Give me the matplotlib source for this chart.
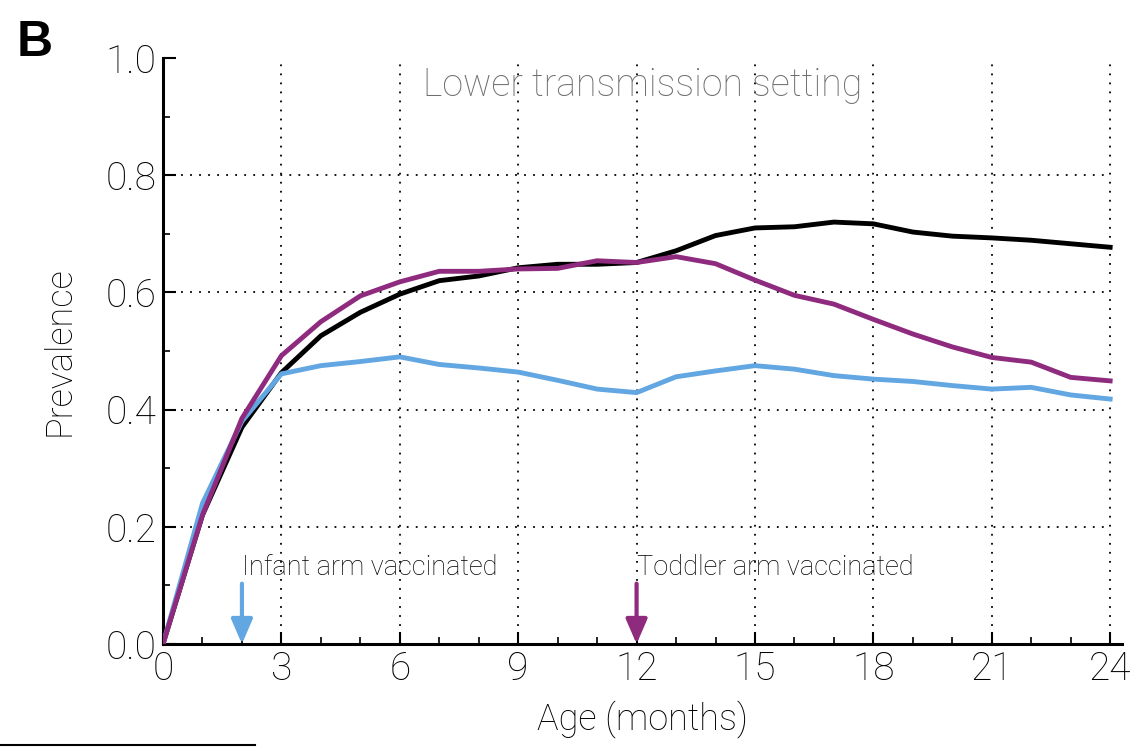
import matplotlib
matplotlib.use("Agg")
import matplotlib.pyplot as plt
from matplotlib.lines import Line2D
from matplotlib.ticker import MultipleLocator

months = list(range(0, 25))
no_vaccine = [0.0, 0.22, 0.37, 0.463, 0.526, 0.566, 0.597, 0.620, 0.628, 0.642, 0.648, 0.648,
              0.651, 0.671, 0.697, 0.710, 0.712, 0.720, 0.717, 0.703, 0.696, 0.693, 0.689, 0.683, 0.677]
toddler_arm = [0.0, 0.22, 0.385, 0.492, 0.550, 0.594, 0.618, 0.636, 0.636, 0.640, 0.641, 0.654,
               0.651, 0.661, 0.649, 0.621, 0.595, 0.580, 0.554, 0.529, 0.507, 0.489, 0.481, 0.455, 0.449]
infant_arm = [0.0, 0.24, 0.38, 0.461, 0.475, 0.482, 0.490, 0.477, 0.471, 0.464, 0.450, 0.435,
              0.429, 0.456, 0.466, 0.475, 0.469, 0.458, 0.452, 0.448, 0.441, 0.435, 0.438, 0.425, 0.418]

infant_vacc_age = 2
toddler_vacc_age = 12
title_text = "Lower transmission setting"
xlabel = "Age (months)"
ylabel = "Prevalence"
xticks = [0, 3, 6, 9, 12, 15, 18, 21, 24]
yticks = [0.0, 0.2, 0.4, 0.6, 0.8, 1.0]

BLUE = "#62a6e2"
PURPLE = "#8f2b7f"
FW = 'light'

plt.rcParams['font.family'] = ['Roboto', 'DejaVu Sans']

fig = plt.figure(figsize=(11.38, 7.47), dpi=100)
ax = fig.add_axes([163/1138, 1 - 644/747, (1122-163)/1138, (644-58)/747])

ax.plot(months, no_vaccine, color="black", lw=3.5, zorder=3)
ax.plot(months, infant_arm, color=BLUE, lw=3.5, zorder=3)
ax.plot(months, toddler_arm, color=PURPLE, lw=3.5, zorder=4)

ax.set_xlim(0, 24.3)
ax.set_ylim(0, 1.0)
ax.set_xticks(xticks)
ax.set_yticks(yticks)
ax.set_yticklabels([f"{v:.1f}" for v in yticks])
ax.xaxis.set_minor_locator(MultipleLocator(1))
ax.yaxis.set_minor_locator(MultipleLocator(0.1))
ax.tick_params(which='major', direction='in', length=9, width=1.5, labelsize=28, pad=5,
               labelcolor='black')
ax.tick_params(which='minor', direction='in', length=5, width=1.2)
for lab in ax.get_xticklabels() + ax.get_yticklabels():
    lab.set_fontweight(FW)

for s in ['top', 'right']:
    ax.spines[s].set_visible(False)
for s in ['left', 'bottom']:
    ax.spines[s].set_linewidth(2.2)

# grid
for xv in xticks[1:]:
    ax.axvline(xv, color='black', ls=(0, (1, 4)), lw=1.3, zorder=1)
for yv in yticks[1:-1]:
    ax.plot([0, 24], [yv, yv], color='black', ls=(0, (1, 4)), lw=1.3, zorder=1)

ax.set_xlabel(xlabel, fontsize=26, fontweight=FW, labelpad=8)
ax.set_ylabel(ylabel, fontsize=26, fontweight=FW, labelpad=20)

ax.text(0.5, 0.985, title_text, transform=ax.transAxes, ha='center', va='top',
        fontsize=27, color='#6e6e6e', fontweight=FW)

# arrows
for xv, col, lab in [(infant_vacc_age, BLUE, "Infant arm vaccinated"),
                     (toddler_vacc_age, PURPLE, "Toddler arm vaccinated")]:
    ax.annotate("", xy=(xv, 0.0), xytext=(xv, 0.103),
                arrowprops=dict(arrowstyle='-|>,head_length=1.5,head_width=0.65',
                                color=col, lw=3, shrinkA=0, shrinkB=0), zorder=5)
    ax.text(xv, 0.108, lab, ha='left', va='bottom', fontsize=19.5, fontweight=FW,
            color='black')

fig.text(17/1138, 1 - 56/747, "B", fontsize=36, fontweight='bold', ha='left', va='baseline',
         family=['Liberation Sans', 'DejaVu Sans'])
fig.add_artist(Line2D([0, 255/1138], [1 - 745/747, 1 - 745/747], color='black', lw=1.5,
                      transform=fig.transFigure))

fig.savefig("out.png", dpi=100)
